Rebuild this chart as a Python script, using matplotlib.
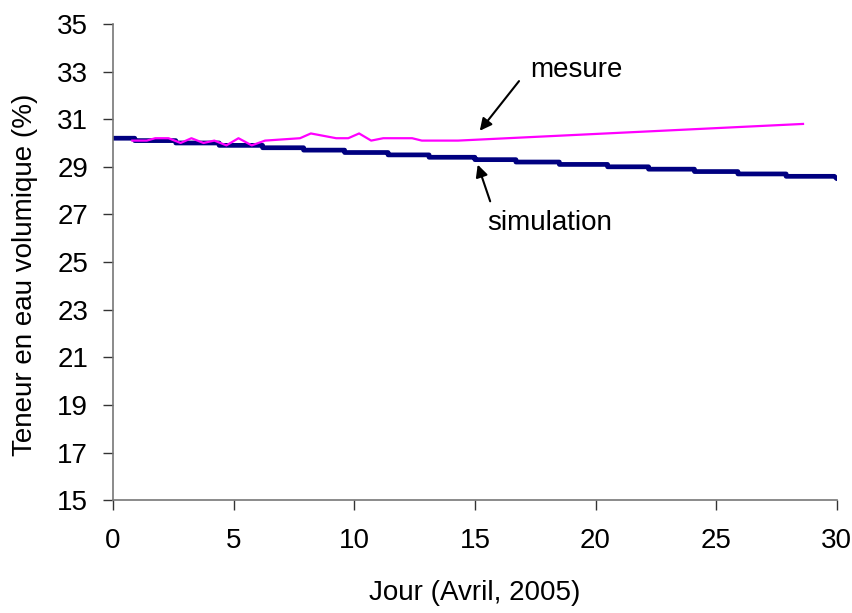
import matplotlib
matplotlib.use("Agg")
import matplotlib.pyplot as plt

plt.rcParams['font.family'] = ['Liberation Sans', 'DejaVu Sans']

# simulation (step values)
sim_days = [0.0, 0.9, 2.6, 4.4, 6.2, 7.9, 9.6, 11.4, 13.1, 15.0, 16.7, 18.5,
            20.5, 22.2, 24.1, 25.9, 27.9, 29.9, 30.0]
sim_vals = [30.2, 30.1, 30.0, 29.9, 29.8, 29.7, 29.6, 29.5, 29.4, 29.3, 29.2, 29.1,
            29.0, 28.9, 28.8, 28.7, 28.6, 28.6, 28.5]

# measurement
mes_days = [0.8, 1.4, 1.75, 2.3, 2.8, 3.25, 3.75, 4.2, 4.7, 5.2, 5.75, 6.3,
            7.75, 8.2, 9.25, 9.75, 10.2, 10.7, 11.2, 12.4, 12.8, 14.3, 28.6]
mes_vals = [30.1, 30.1, 30.2, 30.2, 30.0, 30.2, 30.0, 30.1, 29.9, 30.2, 29.9, 30.1,
            30.2, 30.4, 30.2, 30.2, 30.4, 30.1, 30.2, 30.2, 30.1, 30.1, 30.8]

xticks = [0, 5, 10, 15, 20, 25, 30]
yticks = [15, 17, 19, 21, 23, 25, 27, 29, 31, 33, 35]

fig = plt.figure(figsize=(8.53, 6.13), dpi=100)
ax = fig.add_axes([0.1325, 0.184, 0.8485, 0.777])

# build step path for simulation (steps-post up to last two points)
sx, sy = [], []
for i in range(len(sim_days) - 2):
    sx += [sim_days[i], sim_days[i + 1]]
    sy += [sim_vals[i], sim_vals[i]]
sx += [sim_days[-2], sim_days[-1]]
sy += [sim_vals[-2], sim_vals[-1]]
ax.plot(sx, sy, color='#000080', lw=3.4, solid_capstyle='round', solid_joinstyle='round', zorder=2)
ax.plot(mes_days, mes_vals, color='#FF00FF', lw=1.6, zorder=3)

ax.set_xlim(0, 30)
ax.set_ylim(15, 35)
ax.set_xticks(xticks)
ax.set_yticks(yticks)
ax.tick_params(axis='both', labelsize=20, direction='out', length=7, width=1, colors='#333333', labelcolor='black')
ax.tick_params(axis='x', pad=13)
ax.tick_params(axis='y', pad=11)
for s in ['top', 'right']:
    ax.spines[s].set_visible(False)
for s in ['left', 'bottom']:
    ax.spines[s].set_color('#777777')
    ax.spines[s].set_linewidth(1.2)

ax.set_xlabel('Jour (Avril, 2005)', fontsize=20, labelpad=19)
ax.set_ylabel('Teneur en eau volumique (%)', fontsize=20, labelpad=14)
ax.yaxis.set_label_coords(-0.104, 0.473)

ax.annotate('', xy=(15.13, 30.42), xytext=(16.9, 32.69),
            arrowprops=dict(arrowstyle='-|>', color='black', lw=1.5, mutation_scale=18))
ax.text(17.28, 33.07, 'mesure', fontsize=20, ha='left', va='center')
ax.annotate('', xy=(15.08, 29.2), xytext=(15.67, 27.44),
            arrowprops=dict(arrowstyle='-|>', color='black', lw=1.5, mutation_scale=18))
ax.text(15.5, 26.64, 'simulation', fontsize=20, ha='left', va='center')

fig.savefig('out.png', dpi=100)
